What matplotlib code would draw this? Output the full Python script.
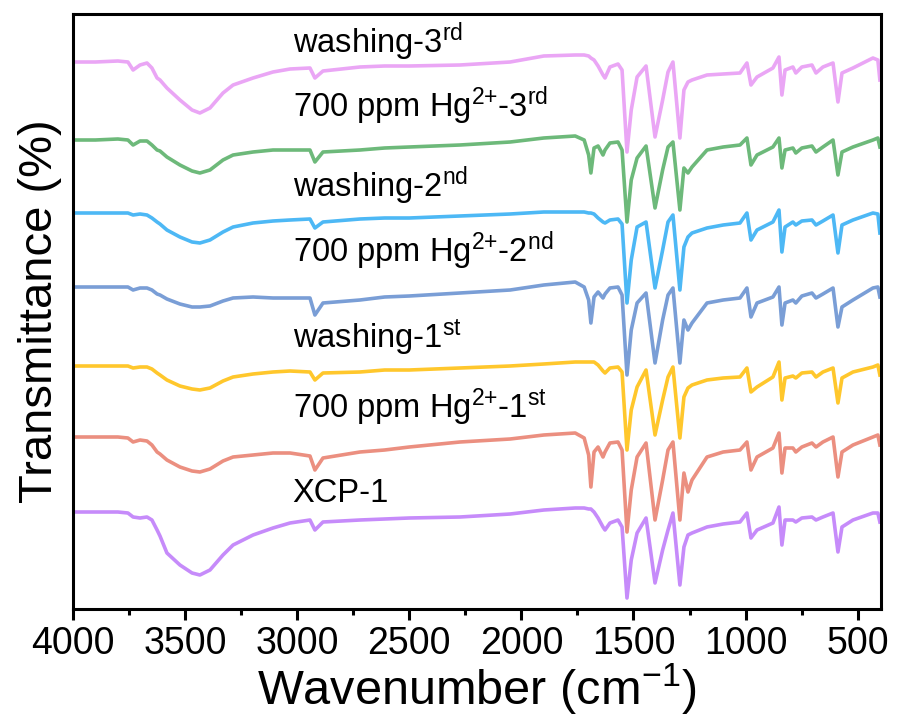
import matplotlib
matplotlib.use('Agg')
import matplotlib.pyplot as plt
import numpy as np
from matplotlib.ticker import MultipleLocator

plt.rcParams['font.family'] = ['Liberation Sans', 'DejaVu Sans']
plt.rcParams['mathtext.default'] = 'regular'

# ===== wavenumber grid (cm-1) =====
wavenumber = [4000, 3900, 3800, 3755, 3732, 3701, 3670, 3648, 3625, 3612,
              3581, 3523, 3469, 3434, 3389, 3331, 3286, 3197, 3108, 3032,
              2943, 2921, 2885, 2720, 2610, 2500, 2274, 2050, 1900, 1760,
              1720, 1700, 1690, 1676, 1658, 1636, 1627, 1605, 1569, 1551,
              1529, 1510, 1484, 1444, 1404, 1370, 1346, 1324, 1293, 1275,
              1257, 1239, 1172, 1100, 1025, 994, 976, 949, 878, 851,
              838, 824, 789, 776, 749, 704, 686, 655, 610, 588,
              570, 521, 432, 410, 401]

# ===== relative transmittance of each sample (a.u.) =====
xcp1 = [0, 0, 0, -1, -5, -6, -5, -8, -18, -24,
        -41, -53, -61, -63, -58, -43, -33, -23, -16, -11,
        -8, -18, -10, -8, -7, -6, -5, -2, 2, 4,
        4, 3, 3, 0, -6, -15, -18, -11, -8, -15,
        -86, -48, -21, -6, -71, -38, -18, -1, -73, -35,
        -23, -21, -15, -12, -10, -1, -26, -18, -11, 5,
        -33, -8, -8, -10, -6, -5, -8, -5, -1, -40,
        -15, -8, -1, -1, -10]

hg_1st = [0, 0, 0, -1, -5, -3, -4, -8, -15, -17,
          -23, -30, -34, -35, -32, -24, -20, -18, -16, -16,
          -19, -33, -21, -15, -13, -10, -5, -2, 2, 4,
          -1, -18, -50, -15, -10, -20, -15, -6, -5, -13,
          -95, -53, -20, -6, -83, -43, -13, -5, -83, -36,
          -55, -43, -20, -15, -13, -5, -33, -20, -11, 4,
          -36, -11, -11, -15, -10, -6, -10, -5, 0, -40,
          -15, -8, 0, 2, -8]

wash_1st = [0, 0, 0, 0, -2, -1, -1, -3, -7, -9,
            -14, -20, -23, -24, -22, -15, -11, -8, -6, -5,
            -6, -14, -7, -6, -4, -4, -2, 0, 2, 4,
            4, 4, 4, 4, 1, -5, -7, -2, -1, -6,
            -84, -44, -21, -4, -69, -34, -11, -1, -72, -31,
            -22, -19, -14, -12, -11, -2, -26, -21, -11, 4,
            -34, -12, -10, -12, -7, -6, -11, -6, -2, -37,
            -12, -6, -1, 1, -9]

hg_2nd = [0, 0, 0, 0, -3, -1, -1, -3, -7, -8,
          -12, -17, -20, -20, -19, -14, -11, -10, -11, -11,
          -11, -28, -16, -13, -10, -9, -6, -3, 2, 5,
          0, -13, -36, -10, -5, -11, -7, -1, 0, -8,
          -88, -43, -16, -6, -76, -33, -8, -1, -76, -33,
          -43, -36, -16, -13, -11, -1, -30, -16, -10, 0,
          -38, -16, -13, -16, -9, -6, -11, -7, -1, -40,
          -20, -13, -1, 0, -10]

wash_2nd = [0, 0, 0, 0, -2, -1, -2, -5, -9, -11,
            -17, -24, -29, -30, -27, -19, -14, -10, -8, -7,
            -6, -15, -9, -6, -5, -5, -3, -1, 1, 1,
            1, 0, 0, -1, -5, -9, -10, -7, -6, -11,
            -90, -47, -14, -9, -75, -37, -9, -2, -77, -34,
            -24, -20, -15, -12, -10, 0, -27, -17, -9, 3,
            -39, -14, -9, -12, -8, -7, -12, -8, -2, -40,
            -12, -7, 0, -1, -20]

hg_3rd = [0, 0, 1, 0, -5, -1, -1, -5, -10, -11,
          -17, -25, -31, -33, -30, -20, -15, -12, -10, -10,
          -10, -22, -12, -10, -8, -7, -5, -2, 2, 4,
          0, -15, -33, -8, -6, -15, -10, -3, -2, -10,
          -82, -40, -18, -6, -68, -30, -7, -2, -70, -28,
          -33, -27, -10, -7, -5, 2, -25, -15, -7, 2,
          -28, -10, -8, -13, -8, -6, -12, -7, 0, -35,
          -12, -7, 0, 2, -7]

wash_3rd = [0, 0, 1, 0, -8, -3, -1, -6, -16, -18,
            -26, -38, -48, -51, -46, -31, -23, -16, -10, -7,
            -6, -16, -9, -5, -4, -4, -3, 0, 6, 7,
            7, 6, 4, 2, -4, -13, -16, -5, -2, -8,
            -90, -48, -15, -4, -75, -38, -10, 0, -76, -28,
            -20, -18, -13, -12, -11, -1, -23, -15, -6, 5,
            -33, -8, -5, -11, -5, -3, -11, -5, -1, -40,
            -11, -6, 4, 2, -18]

spectra = [xcp1, hg_1st, wash_1st, hg_2nd, wash_2nd, hg_3rd, wash_3rd]
labels = ['XCP-1',
          '700 ppm Hg$^{2{+}}$-1$^{st}$',
          'washing-1$^{st}$',
          '700 ppm Hg$^{2{+}}$-2$^{nd}$',
          'washing-2$^{nd}$',
          '700 ppm Hg$^{2{+}}$-3$^{rd}$',
          'washing-3$^{rd}$']
offsets = [97, 172, 243, 322, 396, 469, 547]
label_y = [107, 191, 261, 347, 412, 492, 556]
colors = ['#C68BFA', '#EB8F80', '#FFC72C', '#7A9ED6',
          '#4DB8F5', '#6DB97A', '#EAA6F5']

fig = plt.figure(figsize=(8.97, 7.2), dpi=100)
ax = fig.add_axes([73 / 897, 111 / 720, 808 / 897, 595 / 720])

x = np.array(wavenumber)
for y, off, c, lab, ly in zip(spectra, offsets, colors, labels, label_y):
    ax.plot(x, np.array(y) + off, color=c, lw=2.6, solid_joinstyle='round')
    ax.text(3020, ly, lab, fontsize=23.5, ha='left', va='baseline')

ax.set_xlim(4000, 396)
ax.set_ylim(0, 595)
ax.set_yticks([])
ax.xaxis.set_major_locator(MultipleLocator(500))
ax.xaxis.set_minor_locator(MultipleLocator(250))
ax.tick_params(axis='x', which='major', direction='out', length=8, width=2.2,
               labelsize=27, pad=4)
ax.tick_params(axis='x', which='minor', direction='out', length=4.5, width=2.2)
for s in ax.spines.values():
    s.set_linewidth(2.2)

ax.set_xlabel('Wavenumber (cm$^{-1}$)', fontsize=35, labelpad=0)
ax.set_ylabel('Transmittance (%)', fontsize=34, labelpad=8)

fig.savefig('out.png', dpi=100)
